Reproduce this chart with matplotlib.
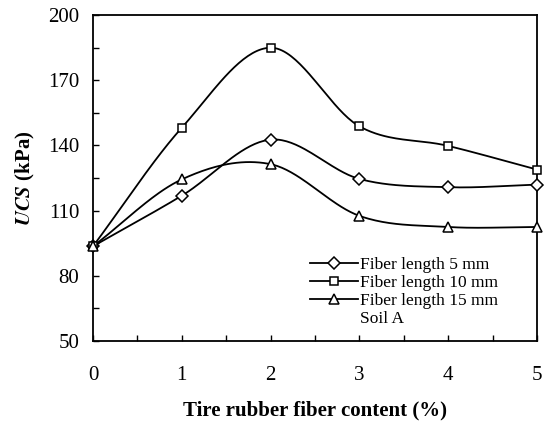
import numpy as np
import matplotlib
matplotlib.use("Agg")
import matplotlib.pyplot as plt
from matplotlib.lines import Line2D

plt.rcParams['font.family'] = ['Liberation Serif', 'DejaVu Serif']
plt.rcParams['mathtext.fontset'] = 'stix'

content = [0, 1, 2, 3, 4, 5]
ucs_5mm = [93.6, 116.9, 142.7, 124.6, 120.8, 122.0]
ucs_10mm = [93.6, 148.2, 185.0, 148.8, 139.8, 128.9]
ucs_15mm = [93.6, 124.4, 131.4, 107.6, 102.5, 102.5]
labels = ['Fiber length 5 mm', 'Fiber length 10 mm', 'Fiber length 15 mm']
markers = ['D', 's', '^']
msizes = [6.3, 6.3, 7.6]


def smooth(x, y, n=40):
    # catmull-rom curve through the points, like a spreadsheet "smoothed line"
    x = np.asarray(x, float)
    y = np.asarray(y, float)
    px = np.concatenate([[2 * x[0] - x[1]], x, [2 * x[-1] - x[-2]]])
    py = np.concatenate([[2 * y[0] - y[1]], y, [2 * y[-1] - y[-2]]])
    xs, ys = [], []
    t = np.linspace(0, 1, n)
    for i in range(1, len(px) - 2):
        for p, out in ((px, xs), (py, ys)):
            p0, p1, p2, p3 = p[i - 1], p[i], p[i + 1], p[i + 2]
            out.append(0.5 * (2 * p1 + (-p0 + p2) * t
                              + (2 * p0 - 5 * p1 + 4 * p2 - p3) * t ** 2
                              + (-p0 + 3 * p1 - 3 * p2 + p3) * t ** 3))
    return np.concatenate(xs), np.concatenate(ys)


fig = plt.figure(figsize=(5.47, 4.21), dpi=100)
ax = fig.add_axes([0.170, 0.190, 0.812, 0.774])

handles = []
for ys, m, ms, lab in zip([ucs_5mm, ucs_10mm, ucs_15mm], markers, msizes, labels):
    sx, sy = smooth(content, ys)
    ax.plot(sx, sy, color='black', lw=1.3, zorder=2)
    ax.plot(content, ys, linestyle='none', marker=m, ms=ms, mfc='white',
            mec='black', mew=1.1, zorder=3, clip_on=False)
    handles.append(Line2D([], [], color='black', lw=1.3, marker=m, ms=ms,
                          mfc='white', mec='black', mew=1.1, label=lab))
handles.append(Line2D([], [], color='none', label='Soil A'))

ax.set_xlim(0, 5)
ax.set_ylim(50, 200)
ax.set_xticks(range(0, 6))
ax.set_xticks(np.arange(0.5, 5, 1), minor=True)
ax.set_yticks(range(50, 201, 30))
ax.set_yticks(range(65, 200, 30), minor=True)
ax.tick_params(which='both', direction='in', top=False, right=False,
               labelsize=15, length=4.5, width=1)
ax.tick_params(axis='x', pad=18)
ax.tick_params(axis='y', pad=10)
for s in ax.spines.values():
    s.set_linewidth(1.3)

ax.set_xlabel('Tire rubber fiber content (%)', fontsize=15, fontweight='bold',
              labelpad=11)
ax.set_ylabel(r'$\boldsymbol{UCS}$ (kPa)', fontsize=15, fontweight='bold',
              labelpad=8)

ax.legend(handles=handles, loc='upper left', bbox_to_anchor=(0.488, 0.259),
          frameon=False, fontsize=12.5, handlelength=2.8, handletextpad=0.1,
          labelspacing=0.12, borderpad=0, borderaxespad=0)

fig.savefig('out.png', dpi=100)
